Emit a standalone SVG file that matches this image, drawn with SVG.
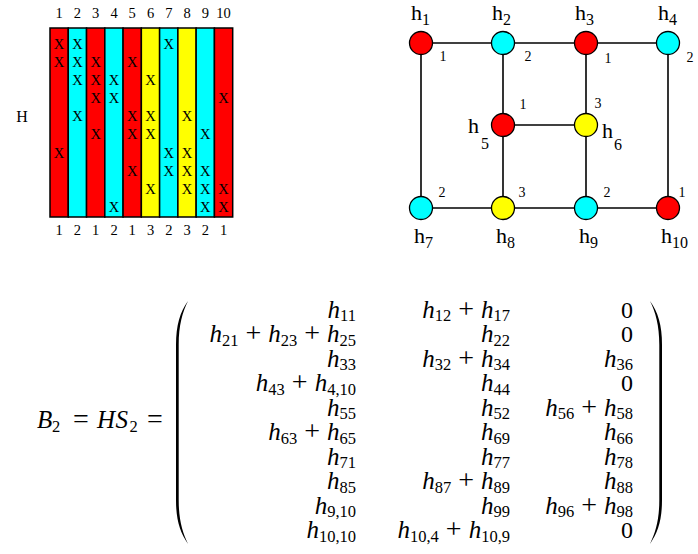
<svg xmlns="http://www.w3.org/2000/svg" width="698" height="554" viewBox="0 0 698 554">
  <style>
    text { font-family: "Liberation Serif", "Times New Roman", serif; fill: #000; }
    .lbl { font-size: 14.5px; text-anchor: middle; }
    .x { font-size: 14.5px; text-anchor: middle; }
    .col { stroke: #000; stroke-width: 1.5; }
    .red { fill: #ff0000; }
    .cyan { fill: #00ffff; }
    .yel { fill: #ffff00; }
    .node { stroke: #000; stroke-width: 1.3; }
    .edge { stroke: #000; stroke-width: 1.6; fill: none; }
    .hn { font-size: 22px; }
    .hs { font-size: 16px; }
    .num { font-size: 14px; text-anchor: middle; }
    .e { text-anchor: end; }
    .v { font-size: 25px; font-style: italic; }
    .s { font-size: 16.5px; }
    .o { font-size: 28px; }
    .r { font-size: 24px; }
    .paren { fill: #000; }
  </style>

  <!-- incidence matrix H: ten coloured columns -->
  <g id="matrix-H">
    <text x="22" y="122" style="font-size:16px;text-anchor:middle">H</text>
    <g id="col-labels-top">
      <text class="lbl" x="59.1" y="18">1</text>
      <text class="lbl" x="77.4" y="18">2</text>
      <text class="lbl" x="95.7" y="18">3</text>
      <text class="lbl" x="114" y="18">4</text>
      <text class="lbl" x="132.2" y="18">5</text>
      <text class="lbl" x="150.5" y="18">6</text>
      <text class="lbl" x="168.8" y="18">7</text>
      <text class="lbl" x="187.1" y="18">8</text>
      <text class="lbl" x="205.3" y="18">9</text>
      <text class="lbl" x="223.6" y="18">10</text>
    </g>
    <g id="columns">
      <rect class="col red" x="50" y="28" width="18.27" height="189"/>
      <rect class="col cyan" x="68.27" y="28" width="18.27" height="189"/>
      <rect class="col red" x="86.54" y="28" width="18.27" height="189"/>
      <rect class="col cyan" x="104.81" y="28" width="18.27" height="189"/>
      <rect class="col red" x="123.08" y="28" width="18.27" height="189"/>
      <rect class="col yel" x="141.35" y="28" width="18.27" height="189"/>
      <rect class="col cyan" x="159.62" y="28" width="18.27" height="189"/>
      <rect class="col yel" x="177.89" y="28" width="18.27" height="189"/>
      <rect class="col cyan" x="196.16" y="28" width="18.27" height="189"/>
      <rect class="col red" x="214.43" y="28" width="18.27" height="189"/>
    </g>
    <g id="entries">
      <text class="x" x="59.1" y="49">X</text>
      <text class="x" x="59.1" y="67.1">X</text>
      <text class="x" x="59.1" y="157.5">X</text>

      <text class="x" x="77.4" y="49">X</text>
      <text class="x" x="77.4" y="67.1">X</text>
      <text class="x" x="77.4" y="85.2">X</text>
      <text class="x" x="77.4" y="121.3">X</text>

      <text class="x" x="95.7" y="67.1">X</text>
      <text class="x" x="95.7" y="85.2">X</text>
      <text class="x" x="95.7" y="103.2">X</text>
      <text class="x" x="95.7" y="139.4">X</text>

      <text class="x" x="114" y="85.2">X</text>
      <text class="x" x="114" y="103.2">X</text>
      <text class="x" x="114" y="211.7">X</text>

      <text class="x" x="132.2" y="67.1">X</text>
      <text class="x" x="132.2" y="121.3">X</text>
      <text class="x" x="132.2" y="139.4">X</text>
      <text class="x" x="132.2" y="175.6">X</text>

      <text class="x" x="150.5" y="85.2">X</text>
      <text class="x" x="150.5" y="121.3">X</text>
      <text class="x" x="150.5" y="139.4">X</text>
      <text class="x" x="150.5" y="193.6">X</text>

      <text class="x" x="168.8" y="49">X</text>
      <text class="x" x="168.8" y="157.5">X</text>
      <text class="x" x="168.8" y="175.6">X</text>

      <text class="x" x="187.1" y="121.3">X</text>
      <text class="x" x="187.1" y="157.5">X</text>
      <text class="x" x="187.1" y="175.6">X</text>
      <text class="x" x="187.1" y="193.6">X</text>

      <text class="x" x="205.3" y="139.4">X</text>
      <text class="x" x="205.3" y="175.6">X</text>
      <text class="x" x="205.3" y="193.6">X</text>
      <text class="x" x="205.3" y="211.7">X</text>

      <text class="x" x="223.6" y="103.2">X</text>
      <text class="x" x="223.6" y="193.6">X</text>
      <text class="x" x="223.6" y="211.7">X</text>
    </g>
    <g id="col-labels-bottom">
      <text class="lbl" x="59.1" y="235">1</text>
      <text class="lbl" x="77.4" y="235">2</text>
      <text class="lbl" x="95.7" y="235">1</text>
      <text class="lbl" x="114" y="235">2</text>
      <text class="lbl" x="132.2" y="235">1</text>
      <text class="lbl" x="150.5" y="235">3</text>
      <text class="lbl" x="168.8" y="235">2</text>
      <text class="lbl" x="187.1" y="235">3</text>
      <text class="lbl" x="205.3" y="235">2</text>
      <text class="lbl" x="223.6" y="235">1</text>
    </g>
  </g>

  <!-- graph connectors -->
  <g id="connectors" class="edge">
    <line x1="421" y1="43" x2="503" y2="43"/>
    <line x1="503" y1="43" x2="586" y2="43"/>
    <line x1="586" y1="43" x2="668" y2="43"/>
    <line x1="421" y1="43" x2="421" y2="208"/>
    <line x1="503" y1="43" x2="503" y2="125"/>
    <line x1="586" y1="43" x2="586" y2="125"/>
    <line x1="668" y1="43" x2="668" y2="208"/>
    <line x1="503" y1="125" x2="586" y2="125"/>
    <line x1="503" y1="125" x2="503" y2="208"/>
    <line x1="586" y1="125" x2="586" y2="208"/>
    <line x1="421" y1="208" x2="503" y2="208"/>
    <line x1="503" y1="208" x2="586" y2="208"/>
    <line x1="586" y1="208" x2="668" y2="208"/>
  </g>

  <!-- graph nodes -->
  <g id="h1">
    <circle class="node red" cx="421" cy="43" r="11.5"/>
    <text x="411" y="20"><tspan class="hn">h</tspan><tspan class="hs" dy="5">1</tspan></text>
    <text class="num" x="443" y="61">1</text>
  </g>
  <g id="h2">
    <circle class="node cyan" cx="503" cy="43" r="11.5"/>
    <text x="492" y="20"><tspan class="hn">h</tspan><tspan class="hs" dy="5">2</tspan></text>
    <text class="num" x="528" y="61">2</text>
  </g>
  <g id="h3">
    <circle class="node red" cx="586" cy="43" r="11.5"/>
    <text x="575" y="20"><tspan class="hn">h</tspan><tspan class="hs" dy="5">3</tspan></text>
    <text class="num" x="608" y="63">1</text>
  </g>
  <g id="h4">
    <circle class="node cyan" cx="668" cy="43" r="11.5"/>
    <text x="658" y="20"><tspan class="hn">h</tspan><tspan class="hs" dy="5">4</tspan></text>
    <text class="num" x="690" y="61.5">2</text>
  </g>
  <g id="h5">
    <circle class="node red" cx="503" cy="125" r="11.5"/>
    <text class="hn" x="468" y="133">h</text>
    <text class="hs" x="481" y="149">5</text>
    <text class="num" x="523" y="108.5">1</text>
  </g>
  <g id="h6">
    <circle class="node yel" cx="586" cy="125" r="11.5"/>
    <text class="hn" x="602" y="138">h</text>
    <text class="hs" x="614" y="150">6</text>
    <text class="num" x="598" y="108">3</text>
  </g>
  <g id="h7">
    <circle class="node cyan" cx="421" cy="208" r="11.5"/>
    <text x="414" y="243"><tspan class="hn">h</tspan><tspan class="hs" dy="5">7</tspan></text>
    <text class="num" x="442" y="197">2</text>
  </g>
  <g id="h8">
    <circle class="node yel" cx="503" cy="208" r="11.5"/>
    <text x="496" y="243"><tspan class="hn">h</tspan><tspan class="hs" dy="5">8</tspan></text>
    <text class="num" x="522" y="197">3</text>
  </g>
  <g id="h9">
    <circle class="node cyan" cx="586" cy="208" r="11.5"/>
    <text x="579" y="243"><tspan class="hn">h</tspan><tspan class="hs" dy="5">9</tspan></text>
    <text class="num" x="607" y="197">2</text>
  </g>
  <g id="h10">
    <circle class="node red" cx="668" cy="208" r="11.5"/>
    <text x="661" y="243"><tspan class="hn">h</tspan><tspan class="hs" dy="5">10</tspan></text>
    <text class="num" x="682" y="197">1</text>
  </g>

  <!-- product B2 = HS2 -->
  <g id="equation">
    <text x="37" y="428" class="v">B</text>
    <text x="52" y="432" class="s">2</text>
    <text x="73" y="428" class="o">=</text>
    <text x="97" y="428" class="v">H</text>
    <text x="115.5" y="428" class="v">S</text>
    <text x="129.5" y="432" class="s">2</text>
    <text x="147" y="428" class="o">=</text>

    <path class="paren" d="M188,301 C180,312 176,325 176,345 L176,500 C176,520 180,532 188,544 C182.5,532 178.7,520 178.7,500 L178.7,345 C178.7,325 182.5,312 188,301 Z"/>
    <path class="paren" d="M650,301 C658,312 662,325 662,345 L662,500 C662,520 658,532 650,544 C655.5,532 659.3,520 659.3,500 L659.3,345 C659.3,325 655.5,312 650,301 Z"/>

    <!-- column 1 -->
    <text class="e" x="356" y="317.5"><tspan class="v">h</tspan><tspan class="s" dy="3.5">11</tspan></text>
    <text class="e" x="356" y="342"><tspan class="v">h</tspan><tspan class="s" dy="3.5">21</tspan><tspan class="o" dy="-3.5" dx="7">+</tspan><tspan class="v" dx="7">h</tspan><tspan class="s" dy="3.5">23</tspan><tspan class="o" dy="-3.5" dx="7">+</tspan><tspan class="v" dx="7">h</tspan><tspan class="s" dy="3.5">25</tspan></text>
    <text class="e" x="356" y="366.5"><tspan class="v">h</tspan><tspan class="s" dy="3.5">33</tspan></text>
    <text class="e" x="356" y="391"><tspan class="v">h</tspan><tspan class="s" dy="3.5">43</tspan><tspan class="o" dy="-3.5" dx="7">+</tspan><tspan class="v" dx="7">h</tspan><tspan class="s" dy="3.5">4,10</tspan></text>
    <text class="e" x="356" y="415.5"><tspan class="v">h</tspan><tspan class="s" dy="3.5">55</tspan></text>
    <text class="e" x="356" y="440"><tspan class="v">h</tspan><tspan class="s" dy="3.5">63</tspan><tspan class="o" dy="-3.5" dx="7">+</tspan><tspan class="v" dx="7">h</tspan><tspan class="s" dy="3.5">65</tspan></text>
    <text class="e" x="356" y="464.5"><tspan class="v">h</tspan><tspan class="s" dy="3.5">71</tspan></text>
    <text class="e" x="356" y="489"><tspan class="v">h</tspan><tspan class="s" dy="3.5">85</tspan></text>
    <text class="e" x="356" y="513.5"><tspan class="v">h</tspan><tspan class="s" dy="3.5">9,10</tspan></text>
    <text class="e" x="356" y="538"><tspan class="v">h</tspan><tspan class="s" dy="3.5">10,10</tspan></text>

    <!-- column 2 -->
    <text class="e" x="510" y="317.5"><tspan class="v">h</tspan><tspan class="s" dy="3.5">12</tspan><tspan class="o" dy="-3.5" dx="7">+</tspan><tspan class="v" dx="7">h</tspan><tspan class="s" dy="3.5">17</tspan></text>
    <text class="e" x="510" y="342"><tspan class="v">h</tspan><tspan class="s" dy="3.5">22</tspan></text>
    <text class="e" x="510" y="366.5"><tspan class="v">h</tspan><tspan class="s" dy="3.5">32</tspan><tspan class="o" dy="-3.5" dx="7">+</tspan><tspan class="v" dx="7">h</tspan><tspan class="s" dy="3.5">34</tspan></text>
    <text class="e" x="510" y="391"><tspan class="v">h</tspan><tspan class="s" dy="3.5">44</tspan></text>
    <text class="e" x="510" y="415.5"><tspan class="v">h</tspan><tspan class="s" dy="3.5">52</tspan></text>
    <text class="e" x="510" y="440"><tspan class="v">h</tspan><tspan class="s" dy="3.5">69</tspan></text>
    <text class="e" x="510" y="464.5"><tspan class="v">h</tspan><tspan class="s" dy="3.5">77</tspan></text>
    <text class="e" x="510" y="489"><tspan class="v">h</tspan><tspan class="s" dy="3.5">87</tspan><tspan class="o" dy="-3.5" dx="7">+</tspan><tspan class="v" dx="7">h</tspan><tspan class="s" dy="3.5">89</tspan></text>
    <text class="e" x="510" y="513.5"><tspan class="v">h</tspan><tspan class="s" dy="3.5">99</tspan></text>
    <text class="e" x="510" y="538"><tspan class="v">h</tspan><tspan class="s" dy="3.5">10,4</tspan><tspan class="o" dy="-3.5" dx="7">+</tspan><tspan class="v" dx="7">h</tspan><tspan class="s" dy="3.5">10,9</tspan></text>

    <!-- column 3 -->
    <text class="e r" x="633" y="317.5">0</text>
    <text class="e r" x="633" y="342">0</text>
    <text class="e" x="633" y="366.5"><tspan class="v">h</tspan><tspan class="s" dy="3.5">36</tspan></text>
    <text class="e r" x="633" y="391">0</text>
    <text class="e" x="633" y="415.5"><tspan class="v">h</tspan><tspan class="s" dy="3.5">56</tspan><tspan class="o" dy="-3.5" dx="7">+</tspan><tspan class="v" dx="7">h</tspan><tspan class="s" dy="3.5">58</tspan></text>
    <text class="e" x="633" y="440"><tspan class="v">h</tspan><tspan class="s" dy="3.5">66</tspan></text>
    <text class="e" x="633" y="464.5"><tspan class="v">h</tspan><tspan class="s" dy="3.5">78</tspan></text>
    <text class="e" x="633" y="489"><tspan class="v">h</tspan><tspan class="s" dy="3.5">88</tspan></text>
    <text class="e" x="633" y="513.5"><tspan class="v">h</tspan><tspan class="s" dy="3.5">96</tspan><tspan class="o" dy="-3.5" dx="7">+</tspan><tspan class="v" dx="7">h</tspan><tspan class="s" dy="3.5">98</tspan></text>
    <text class="e r" x="633" y="538">0</text>
  </g>
</svg>
